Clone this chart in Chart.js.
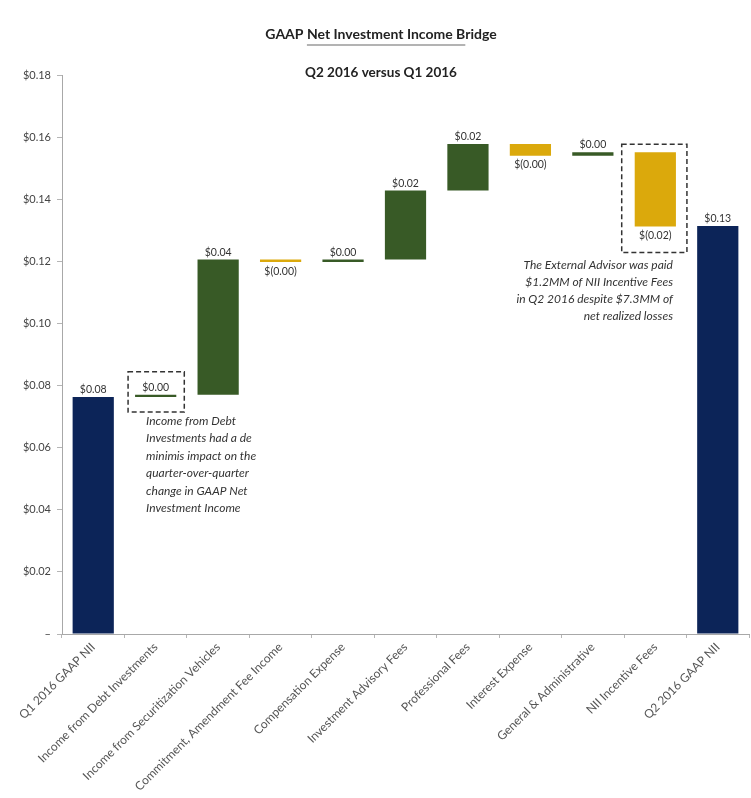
<!DOCTYPE html>
<html><head><meta charset="utf-8">
<script src="https://cdn.jsdelivr.net/npm/chart.js@4"></script>
<style>html,body{margin:0;padding:0;background:#fff;overflow:hidden}</style>
</head><body>
<canvas id="c" width="751" height="798"></canvas>
<script>
const categories = ['Q1 2016 GAAP NII','Income from Debt Investments','Income from Securitization Vehicles','Commitment, Amendment Fee Income','Compensation Expense','Investment Advisory Fees','Professional Fees','Interest Expense','General & Administrative','NII Incentive Fees','Q2 2016 GAAP NII'];
const barLow  = [0, 0.0763, 0.0770, 0.1198, 0.1198, 0.1206, 0.1428, 0.1540, 0.1540, 0.1312, 0];
const barHigh = [0.0763, 0.0770, 0.1206, 0.1206, 0.1206, 0.1428, 0.1578, 0.1578, 0.1551, 0.1551, 0.1314];
const barKind = ['total','up','up','down','up','up','up','down','up','down','total'];
const valueLabels = ['$0.08','$0.00','$0.04','$(0.00)','$0.00','$0.02','$0.02','$(0.00)','$0.00','$(0.02)','$0.13'];
const titleText = 'GAAP Net Investment Income Bridge';
const subtitleText = 'Q2 2016 versus Q1 2016';
const note1 = ['Income from Debt','Investments had a de','minimis impact on the','quarter-over-quarter','change in GAAP Net','Investment Income'];
const note2 = ['The External Advisor was paid','$1.2MM of NII Incentive Fees','in Q2 2016 despite $7.3MM of','net realized losses'];

const kindColor = {total:'#0c2458', up:'#385a26', down:'#dba90c'};
const FONT = 'Lato, "Liberation Sans", sans-serif';
Chart.defaults.font.family = FONT;

function barBox(el){
  return {left: el.x - el.width/2, right: el.x + el.width/2, top: Math.min(el.y, el.base), bottom: Math.max(el.y, el.base)};
}

const overlay = {
  id: 'overlay',
  afterDraw(chart){
    const ctx = chart.ctx;
    const meta = chart.getDatasetMeta(0);
    ctx.save();
    // titles
    ctx.fillStyle = '#222';
    ctx.textAlign = 'center';
    ctx.textBaseline = 'middle';
    ctx.font = 'bold 14px ' + FONT;
    const tx = 381;
    ctx.fillText(titleText, tx, 34);
    const tw = ctx.measureText(titleText).width;
    const startX = tx - tw/2 + ctx.measureText('GAAP ').width;
    const endX = tx - tw/2 + ctx.measureText('GAAP Net Investment Income B').width;
    ctx.strokeStyle = '#9a9a9a';
    ctx.lineWidth = 1.5;
    ctx.beginPath(); ctx.moveTo(startX, 45); ctx.lineTo(endX, 45); ctx.stroke();
    ctx.font = 'bold 13.5px ' + FONT;
    ctx.fillText(subtitleText, tx, 73);

    // value labels
    ctx.font = '10.5px ' + FONT;
    ctx.fillStyle = '#333';
    meta.data.forEach((el, i) => {
      const b = barBox(el);
      if (barKind[i] === 'down') {
        ctx.textBaseline = 'top';
        ctx.fillText(valueLabels[i], el.x, b.bottom + 4);
      } else {
        ctx.textBaseline = 'bottom';
        ctx.fillText(valueLabels[i], el.x, b.top - 2);
      }
    });

    // dashed boxes
    ctx.setLineDash([5,3]);
    ctx.strokeStyle = '#333';
    ctx.lineWidth = 1.5;
    const b1 = barBox(meta.data[1]);
    const box1 = {l: b1.left - 7, r: b1.right + 8, t: b1.top - 23, b: b1.bottom + 15};
    ctx.strokeRect(box1.l, box1.t, box1.r - box1.l, box1.b - box1.t);
    const b2 = barBox(meta.data[9]);
    const box2 = {l: b2.left - 13, r: b2.right + 11, t: b2.top - 8, b: b2.bottom + 26};
    ctx.strokeRect(box2.l, box2.t, box2.r - box2.l, box2.b - box2.t);
    ctx.setLineDash([]);

    // notes
    ctx.font = 'italic 12px ' + FONT;
    ctx.fillStyle = '#333';
    ctx.textBaseline = 'middle';
    ctx.textAlign = 'left';
    note1.forEach((t, k) => ctx.fillText(t, b1.left + 11, box1.b + 9 + k*17.4));
    ctx.textAlign = 'right';
    note2.forEach((t, k) => ctx.fillText(t, b2.right - 3, box2.b + 13 + k*17));
    ctx.restore();
  }
};

new Chart(document.getElementById('c'), {
  type: 'bar',
  data: {
    labels: categories,
    datasets: [{
      data: barLow.map((l, i) => [l, barHigh[i]]),
      backgroundColor: barKind.map(k => kindColor[k]),
      barPercentage: 0.66,
      categoryPercentage: 1,
      borderSkipped: false
    }]
  },
  options: {
    responsive: false,
    animation: false,
    devicePixelRatio: 1,
    layout: {padding: {top: 75, right: 2, left: 0, bottom: 0}},
    plugins: {legend: {display: false}, tooltip: {enabled: false}, title: {display: false}},
    scales: {
      x: {
        ticks: {autoSkip: false, maxRotation: 45, minRotation: 45, color: '#555', font: {size: 12, family: FONT}, padding: 2},
        grid: {drawOnChartArea: false, drawTicks: true, tickLength: 4, color: '#b5b5b5', offset: true},
        border: {color: '#a8a8a8', width: 1},
        afterFit: s => { s.height = 164; }
      },
      y: {
        min: 0, max: 0.18,
        ticks: {stepSize: 0.02, color: '#444', font: {size: 11, family: FONT}, padding: 6,
          callback: v => Math.abs(v) < 1e-9 ? '–' : '$' + v.toFixed(2)},
        grid: {drawOnChartArea: false, drawTicks: true, tickLength: 5, color: '#b5b5b5'},
        border: {color: '#a8a8a8', width: 1},
        afterFit: s => { s.width = 62; }
      }
    }
  },
  plugins: [overlay]
});
</script>
</body></html>
